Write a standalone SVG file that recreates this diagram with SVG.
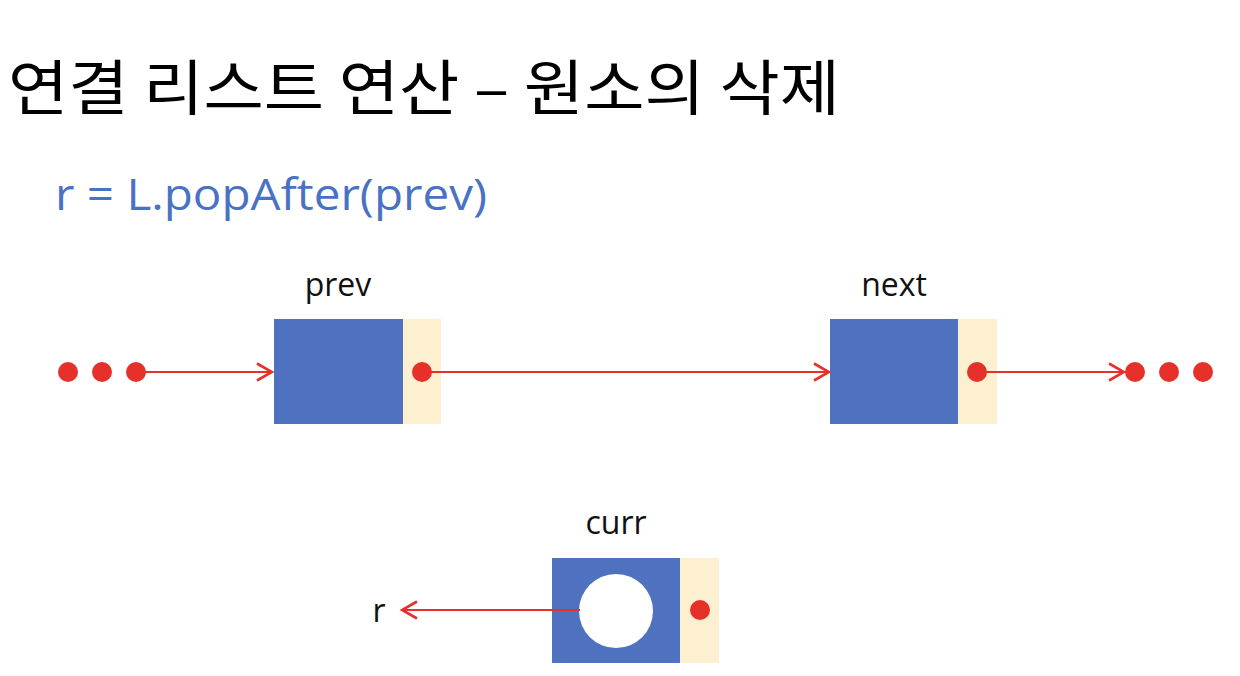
<svg xmlns="http://www.w3.org/2000/svg" width="1240" height="676" viewBox="0 0 1240 676">
<defs>
<style>
.data{fill:#4E72BF}
.link{fill:#FDF0D0}
.dot{fill:#E6302A}
.edge{stroke:#E6302A;stroke-width:2.2;fill:none}
.lbl{font-family:"Open Sans","Noto Sans",sans-serif;font-size:32px;fill:#111}
</style>
<marker id="ah" viewBox="0 0 20 20" refX="18" refY="10" markerWidth="20" markerHeight="20" markerUnits="userSpaceOnUse" orient="auto">
<path d="M3,1.5 L18,10 L3,18.5" fill="none" stroke="#E6302A" stroke-width="2.6"/>
</marker>
</defs>
<rect width="1240" height="676" fill="#fff"/>
<text x="8" y="110" font-family="'Noto Sans CJK KR',sans-serif" font-size="60" fill="#000" textLength="832" lengthAdjust="spacingAndGlyphs">연결 리스트 연산 – 원소의 삭제</text>
<text x="55" y="210" font-family="'Open Sans','Noto Sans',sans-serif" font-size="43" fill="#4A72C4" textLength="432" lengthAdjust="spacingAndGlyphs">r = L.popAfter(prev)</text>

<g id="left-dots">
<circle class="dot" cx="68" cy="372" r="10"/>
<circle class="dot" cx="102" cy="372" r="10"/>
<circle class="dot" cx="136" cy="372" r="10"/>
</g>
<g id="right-dots">
<circle class="dot" cx="1135" cy="372" r="10"/>
<circle class="dot" cx="1169" cy="372" r="10"/>
<circle class="dot" cx="1203" cy="372" r="10"/>
</g>

<g id="node-prev">
<text class="lbl" x="338" y="296" text-anchor="middle">prev</text>
<rect class="data" x="274" y="319" width="129" height="105"/>
<rect class="link" x="403" y="319" width="38" height="105"/>
<circle class="dot" cx="422" cy="372" r="10"/>
</g>

<g id="node-next">
<text class="lbl" x="894" y="296" text-anchor="middle">next</text>
<rect class="data" x="830" y="319" width="128" height="105"/>
<rect class="link" x="958" y="319" width="39" height="105"/>
<circle class="dot" cx="977" cy="372" r="10"/>
</g>

<g id="node-curr">
<text class="lbl" x="616" y="534" text-anchor="middle">curr</text>
<rect class="data" x="552" y="558" width="128" height="105"/>
<rect class="link" x="680" y="558" width="39" height="105"/>
<circle cx="616" cy="611" r="37" fill="#fff"/>
<circle class="dot" cx="700" cy="610" r="10"/>
</g>

<g id="r-label">
<text class="lbl" x="379" y="622" text-anchor="middle">r</text>
</g>

<g id="edges">
<line class="edge" x1="136" y1="372" x2="272" y2="372" marker-end="url(#ah)"/>
<line class="edge" x1="422" y1="372" x2="829" y2="372" marker-end="url(#ah)"/>
<line class="edge" x1="977" y1="372" x2="1124" y2="372" marker-end="url(#ah)"/>
<line class="edge" x1="580" y1="610" x2="402" y2="610" marker-end="url(#ah)"/>
</g>
</svg>
